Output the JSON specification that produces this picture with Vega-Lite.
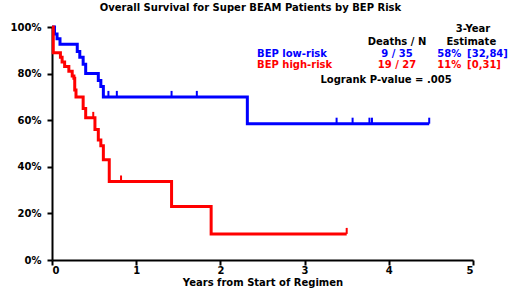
{
  "$schema": "https://vega.github.io/schema/vega-lite/v6.json",
  "width": 421,
  "height": 233,
  "autosize": {"type": "none"},
  "padding": {"left": 52, "top": 27, "right": 47, "bottom": 35},
  "background": "white",
  "config": {
    "view": {"stroke": null},
    "font": "DejaVu Sans",
    "text": {"font": "DejaVu Sans", "fontWeight": "bold", "fontSize": 10}
  },
  "title": {
    "text": "Overall Survival for Super BEAM Patients by BEP Risk",
    "font": "DejaVu Sans",
    "fontSize": 10,
    "fontWeight": "bold",
    "color": "black",
    "anchor": "middle",
    "frame": "group",
    "offset": 8,
    "dx": -12
  },
  "datasets": {
    "km": [
      {"group": "BEP low-risk", "t": 0, "s": 1},
      {"group": "BEP low-risk", "t": 0.03, "s": 0.97},
      {"group": "BEP low-risk", "t": 0.06, "s": 0.95},
      {"group": "BEP low-risk", "t": 0.095, "s": 0.926},
      {"group": "BEP low-risk", "t": 0.3, "s": 0.895},
      {"group": "BEP low-risk", "t": 0.33, "s": 0.87},
      {"group": "BEP low-risk", "t": 0.37, "s": 0.84},
      {"group": "BEP low-risk", "t": 0.4, "s": 0.8},
      {"group": "BEP low-risk", "t": 0.55, "s": 0.77},
      {"group": "BEP low-risk", "t": 0.58, "s": 0.745},
      {"group": "BEP low-risk", "t": 0.61, "s": 0.7},
      {"group": "BEP low-risk", "t": 2.32, "s": 0.585},
      {"group": "BEP low-risk", "t": 4.48, "s": 0.585},
      {"group": "BEP high-risk", "t": 0, "s": 1},
      {"group": "BEP high-risk", "t": 0.015, "s": 0.89},
      {"group": "BEP high-risk", "t": 0.1, "s": 0.87},
      {"group": "BEP high-risk", "t": 0.12, "s": 0.85},
      {"group": "BEP high-risk", "t": 0.15, "s": 0.83},
      {"group": "BEP high-risk", "t": 0.2, "s": 0.81},
      {"group": "BEP high-risk", "t": 0.24, "s": 0.79},
      {"group": "BEP high-risk", "t": 0.26, "s": 0.78},
      {"group": "BEP high-risk", "t": 0.27, "s": 0.73},
      {"group": "BEP high-risk", "t": 0.285, "s": 0.7},
      {"group": "BEP high-risk", "t": 0.37, "s": 0.65},
      {"group": "BEP high-risk", "t": 0.4, "s": 0.61},
      {"group": "BEP high-risk", "t": 0.51, "s": 0.56},
      {"group": "BEP high-risk", "t": 0.55, "s": 0.515},
      {"group": "BEP high-risk", "t": 0.58, "s": 0.49},
      {"group": "BEP high-risk", "t": 0.61, "s": 0.43},
      {"group": "BEP high-risk", "t": 0.68, "s": 0.337},
      {"group": "BEP high-risk", "t": 1.42, "s": 0.23},
      {"group": "BEP high-risk", "t": 1.89, "s": 0.112},
      {"group": "BEP high-risk", "t": 3.5, "s": 0.112}
    ],
    "cens": [
      {"group": "BEP low-risk", "t": 0.67, "s": 0.7},
      {"group": "BEP low-risk", "t": 0.77, "s": 0.7},
      {"group": "BEP low-risk", "t": 1.42, "s": 0.7},
      {"group": "BEP low-risk", "t": 1.72, "s": 0.7},
      {"group": "BEP low-risk", "t": 3.38, "s": 0.585},
      {"group": "BEP low-risk", "t": 3.57, "s": 0.585},
      {"group": "BEP low-risk", "t": 3.77, "s": 0.585},
      {"group": "BEP low-risk", "t": 3.8, "s": 0.585},
      {"group": "BEP low-risk", "t": 4.48, "s": 0.585},
      {"group": "BEP high-risk", "t": 0.49, "s": 0.61},
      {"group": "BEP high-risk", "t": 0.82, "s": 0.337},
      {"group": "BEP high-risk", "t": 3.5, "s": 0.112}
    ]
  },
  "layer": [
    {
      "data": {"name": "km"},
      "mark": {"type": "line", "interpolate": "step-after", "strokeWidth": 3, "clip": false},
      "encoding": {
        "x": {
          "field": "t", "type": "quantitative",
          "scale": {"domain": [0, 5], "nice": false},
          "axis": {
            "title": "Years from Start of Regimen",
            "titleFont": "DejaVu Sans", "titleFontSize": 10, "titleFontWeight": "bold", "titleColor": "black",
            "titlePadding": 2,
            "values": [0, 1, 2, 3, 4, 5],
            "format": "d",
            "labelFont": "DejaVu Sans", "labelFontSize": 10, "labelFontWeight": "bold", "labelColor": "black",
            "labelPadding": 0,
            "grid": false,
            "domainColor": "black", "domainWidth": 2,
            "tickColor": "black", "tickWidth": 2, "tickSize": 5
          }
        },
        "y": {
          "field": "s", "type": "quantitative",
          "scale": {"domain": [0, 1], "nice": false},
          "axis": {
            "title": null,
            "values": [0, 0.1, 0.2, 0.3, 0.4, 0.5, 0.6, 0.7, 0.8, 0.9, 1],
            "format": ".0%",
            "labelExpr": "round(datum.value*10) % 2 == 0 ? datum.label : ''",
            "labelFont": "DejaVu Sans", "labelFontSize": 10, "labelFontWeight": "bold", "labelColor": "black",
            "labelPadding": 6,
            "grid": false,
            "domainColor": "black", "domainWidth": 2,
            "tickColor": "black", "tickWidth": 2, "tickSize": 5
          }
        },
        "color": {
          "field": "group", "type": "nominal",
          "scale": {"domain": ["BEP low-risk", "BEP high-risk"], "range": ["#0000ff", "#ff0000"]},
          "legend": null
        },
        "detail": {"field": "group"}
      }
    },
    {
      "data": {"name": "cens"},
      "mark": {"type": "tick", "orient": "vertical", "size": 6, "thickness": 2, "yOffset": -3, "opacity": 1, "clip": false},
      "encoding": {
        "x": {"field": "t", "type": "quantitative"},
        "y": {"field": "s", "type": "quantitative"},
        "color": {"field": "group", "type": "nominal", "legend": null}
      }
    },
    {
      "data": {"values": [{}]},
      "mark": {"type": "text", "text": "3-Year", "align": "center", "baseline": "middle", "color": "black"},
      "encoding": {"x": {"datum": 5.0}, "y": {"datum": 0.993}}
    },
    {
      "data": {"values": [{}]},
      "mark": {"type": "text", "text": "Estimate", "align": "center", "baseline": "middle", "color": "black"},
      "encoding": {"x": {"datum": 4.98}, "y": {"datum": 0.936}}
    },
    {
      "data": {"values": [{}]},
      "mark": {"type": "text", "text": "Deaths / N", "align": "center", "baseline": "middle", "color": "black"},
      "encoding": {"x": {"datum": 4.097}, "y": {"datum": 0.936}}
    },
    {
      "data": {"values": [{}]},
      "mark": {"type": "text", "text": "BEP low-risk", "align": "left", "baseline": "middle", "color": "#0000ff"},
      "encoding": {"x": {"datum": 2.435}, "y": {"datum": 0.884}}
    },
    {
      "data": {"values": [{}]},
      "mark": {"type": "text", "text": "9 / 35", "align": "center", "baseline": "middle", "color": "#0000ff"},
      "encoding": {"x": {"datum": 4.097}, "y": {"datum": 0.884}}
    },
    {
      "data": {"values": [{}]},
      "mark": {"type": "text", "text": "58%", "align": "right", "baseline": "middle", "color": "#0000ff"},
      "encoding": {"x": {"datum": 4.86}, "y": {"datum": 0.884}}
    },
    {
      "data": {"values": [{}]},
      "mark": {"type": "text", "text": "[32,84]", "align": "left", "baseline": "middle", "color": "#0000ff"},
      "encoding": {"x": {"datum": 4.93}, "y": {"datum": 0.884}}
    },
    {
      "data": {"values": [{}]},
      "mark": {"type": "text", "text": "BEP high-risk", "align": "left", "baseline": "middle", "color": "#ff0000"},
      "encoding": {"x": {"datum": 2.435}, "y": {"datum": 0.837}}
    },
    {
      "data": {"values": [{}]},
      "mark": {"type": "text", "text": "19 / 27", "align": "center", "baseline": "middle", "color": "#ff0000"},
      "encoding": {"x": {"datum": 4.097}, "y": {"datum": 0.837}}
    },
    {
      "data": {"values": [{}]},
      "mark": {"type": "text", "text": "11%", "align": "right", "baseline": "middle", "color": "#ff0000"},
      "encoding": {"x": {"datum": 4.86}, "y": {"datum": 0.837}}
    },
    {
      "data": {"values": [{}]},
      "mark": {"type": "text", "text": "[0,31]", "align": "left", "baseline": "middle", "color": "#ff0000"},
      "encoding": {"x": {"datum": 4.93}, "y": {"datum": 0.837}}
    },
    {
      "data": {"values": [{}]},
      "mark": {"type": "text", "text": "Logrank P-value = .005", "align": "center", "baseline": "middle", "color": "black"},
      "encoding": {"x": {"datum": 3.967}, "y": {"datum": 0.773}}
    }
  ]
}
